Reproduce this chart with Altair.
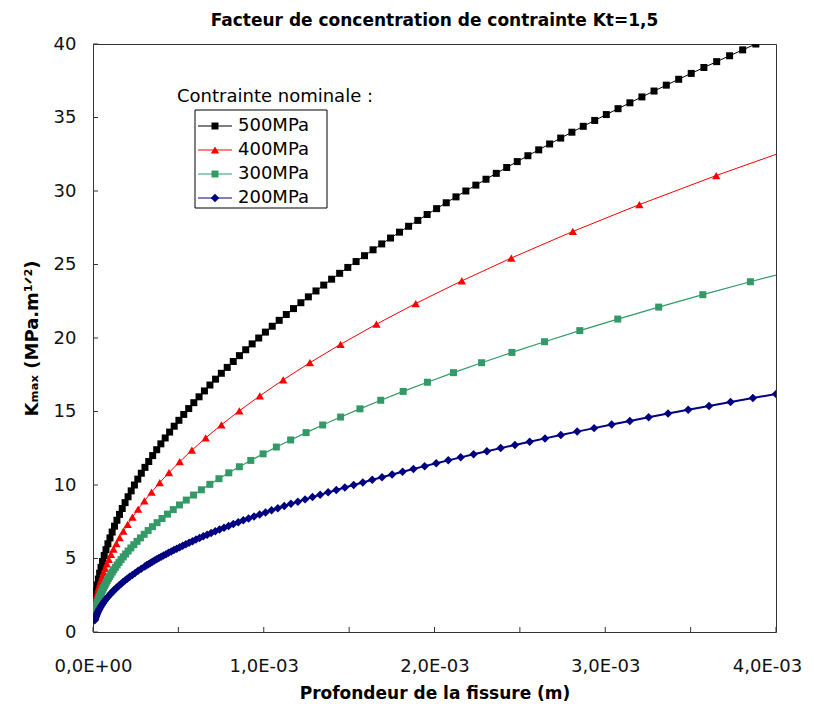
import altair as alt
import pandas as pd

# ---------------- data (depth in mm, Kmax in MPa.m^1/2) ----------------
series_names = ["500MPa", "400MPa", "300MPa", "200MPa"]
series_colors = ["#000000", "#FF0000", "#339966", "#000080"]

depth_500 = [0.00971, 0.01398, 0.01902, 0.02484, 0.03144, 0.03882, 0.04697, 0.05590, 0.06561, 0.07609,
             0.08735, 0.09938, 0.1122, 0.1258, 0.1401, 0.1553, 0.1712, 0.1879, 0.2054, 0.2236,
             0.2426, 0.2624, 0.2830, 0.3043, 0.3265, 0.3494, 0.3731, 0.3975, 0.4228, 0.4488,
             0.4755, 0.5031, 0.5314, 0.5606, 0.5905, 0.6211, 0.6526, 0.6848, 0.7178, 0.7516,
             0.7861, 0.8214, 0.8575, 0.8944, 0.9321, 0.9705, 1.0097, 1.0497, 1.0905, 1.1320,
             1.1743, 1.2174, 1.2613, 1.3059, 1.3513, 1.3975, 1.4445, 1.4922, 1.5408, 1.5901,
             1.6401, 1.6910, 1.7426, 1.7950, 1.8482, 1.9022, 1.9569, 2.0124, 2.0687, 2.1258,
             2.1836, 2.2422, 2.3016, 2.3618, 2.4228, 2.4845, 2.5470, 2.6103, 2.6743, 2.7391,
             2.8047, 2.8711, 2.9383, 3.0062, 3.0749, 3.1444, 3.2147, 3.2857, 3.3575, 3.4301,
             3.5035, 3.5777, 3.6526, 3.7283, 3.8048, 3.8820, 3.9600]
k_500 = [2.0, 2.4, 2.8, 3.2, 3.6, 4.0, 4.4, 4.8, 5.2, 5.6,
         6.0, 6.4, 6.8, 7.2, 7.6, 8.0, 8.4, 8.8, 9.2, 9.6,
         10.0, 10.4, 10.8, 11.2, 11.6, 12.0, 12.4, 12.8, 13.2, 13.6,
         14.0, 14.4, 14.8, 15.2, 15.6, 16.0, 16.4, 16.8, 17.2, 17.6,
         18.0, 18.4, 18.8, 19.2, 19.6, 20.0, 20.4, 20.8, 21.2, 21.6,
         22.0, 22.4, 22.8, 23.2, 23.6, 24.0, 24.4, 24.8, 25.2, 25.6,
         26.0, 26.4, 26.8, 27.2, 27.6, 28.0, 28.4, 28.8, 29.2, 29.6,
         30.0, 30.4, 30.8, 31.2, 31.6, 32.0, 32.4, 32.8, 33.2, 33.6,
         34.0, 34.4, 34.8, 35.2, 35.6, 36.0, 36.4, 36.8, 37.2, 37.6,
         38.0, 38.4, 38.8, 39.2, 39.6, 40.0, 40.4]

depth_400 = [0.0100, 0.0114, 0.0129, 0.0148, 0.0168, 0.0192, 0.0219, 0.0249, 0.0284, 0.0324,
             0.0369, 0.0421, 0.0480, 0.0547, 0.0624, 0.0711, 0.0811, 0.0924, 0.1054, 0.120,
             0.137, 0.156, 0.178, 0.203, 0.231, 0.264, 0.301, 0.343, 0.391, 0.445,
             0.508, 0.579, 0.660, 0.752, 0.857, 0.977, 1.114, 1.27, 1.45, 1.66,
             1.89, 2.16, 2.45, 2.81, 3.20, 3.65, 4.16]
k_400 = [1.625, 1.735, 1.846, 1.977, 2.107, 2.252, 2.405, 2.565, 2.739, 2.926,
         3.122, 3.335, 3.561, 3.801, 4.060, 4.334, 4.629, 4.941, 5.277, 5.631,
         6.016, 6.420, 6.858, 7.323, 7.812, 8.351, 8.918, 9.519, 10.164, 10.843,
         11.585, 12.368, 13.205, 14.095, 15.047, 16.066, 17.156, 18.317, 19.572, 20.942,
         22.346, 23.888, 25.442, 27.247, 29.076, 31.053, 33.152]

depth_300 = [0.01020, 0.01100, 0.01186, 0.01278, 0.01378, 0.01485, 0.01601, 0.01726, 0.01861, 0.02006,
             0.02162, 0.02331, 0.02512, 0.02708, 0.02920, 0.03147, 0.03393, 0.03657, 0.03943, 0.04250,
             0.04582, 0.04939, 0.05324, 0.05739, 0.06187, 0.06669, 0.07190, 0.07750, 0.08355, 0.09007,
             0.09709, 0.10466, 0.11283, 0.12163, 0.13111, 0.14134, 0.15236, 0.16425, 0.17706, 0.19087,
             0.20575, 0.22180, 0.23910, 0.25775, 0.27785, 0.29953, 0.32289, 0.34807, 0.37522, 0.40449,
             0.43604, 0.47005, 0.50671, 0.54623, 0.58884, 0.63477, 0.68428, 0.73765, 0.79518, 0.85721,
             0.92407, 0.99615, 1.0738, 1.1576, 1.2479, 1.3452, 1.4502, 1.5633, 1.6852, 1.8167,
             1.9584, 2.1111, 2.2758, 2.4533, 2.6446, 2.8509, 3.0733, 3.3130, 3.5714, 3.8500,
             4.1500]
k_300 = [1.226, 1.273, 1.322, 1.372, 1.425, 1.479, 1.536, 1.595, 1.656, 1.719,
         1.785, 1.853, 1.924, 1.998, 2.074, 2.154, 2.236, 2.322, 2.411, 2.503,
         2.599, 2.698, 2.801, 2.908, 3.020, 3.135, 3.255, 3.380, 3.509, 3.644,
         3.783, 3.928, 4.078, 4.234, 4.396, 4.565, 4.739, 4.921, 5.109, 5.305,
         5.507, 5.718, 5.937, 6.164, 6.400, 6.645, 6.899, 7.163, 7.438, 7.722,
         8.018, 8.325, 8.643, 8.974, 9.317, 9.674, 10.044, 10.429, 10.828, 11.242,
         11.672, 12.119, 12.583, 13.064, 13.564, 14.083, 14.622, 15.182, 15.763, 16.366,
         16.992, 17.643, 18.318, 19.019, 19.747, 20.502, 21.287, 22.102, 22.948, 23.826,
         24.738]

depth_200 = [0.00972, 0.01115, 0.01279, 0.01468, 0.01685, 0.01933, 0.02218, 0.02546, 0.02921, 0.03352,
             0.03847, 0.04414, 0.05065, 0.05813, 0.06670, 0.07654, 0.08783,
             0.10079, 0.10797, 0.11566, 0.12390, 0.13273, 0.14218, 0.15231, 0.16316, 0.17478, 0.18723,
             0.20056, 0.21485, 0.23015, 0.24654, 0.26410, 0.28291,
             0.30306, 0.31367, 0.32465, 0.33601, 0.34777, 0.35994, 0.37254, 0.38558, 0.39907, 0.41304,
             0.42750, 0.44246, 0.45795, 0.47398, 0.49057, 0.50774, 0.52551, 0.54390, 0.56294, 0.58264,
             0.60304, 0.62414, 0.64599, 0.66860, 0.69200, 0.71622, 0.74129, 0.76723, 0.79409, 0.82188,
             0.85065, 0.88042, 0.91123, 0.94313, 0.97614, 1.01030, 1.04566, 1.08226, 1.12014, 1.15934,
             1.19992, 1.24191, 1.28538, 1.33037, 1.37693, 1.42512, 1.47500, 1.52663, 1.58006, 1.63536,
             1.69260, 1.75184, 1.81315, 1.87661, 1.94229, 2.01027, 2.08063, 2.15345, 2.22882, 2.30683,
             2.38757, 2.47113, 2.55762, 2.64714, 2.73979, 2.83568, 2.93493, 3.03765, 3.14397, 3.25401,
             3.36790, 3.48578, 3.60778, 3.73405, 3.86474, 4.00000]
k_200 = [0.7981, 0.8549, 0.9158, 0.9810, 1.0509, 1.1258, 1.2059, 1.2918, 1.3838, 1.4824,
         1.5880, 1.7011, 1.8222, 1.9520, 2.0911, 2.2400, 2.3995,
         2.5704, 2.6604, 2.7535, 2.8499, 2.9496, 3.0528, 3.1597, 3.2703, 3.3847, 3.5032,
         3.6258, 3.7527, 3.8840, 4.0199, 4.1606, 4.3062,
         4.457, 4.534, 4.613, 4.693, 4.774, 4.857, 4.941, 5.027, 5.114, 5.203,
         5.293, 5.385, 5.478, 5.574, 5.670, 5.769, 5.869, 5.971, 6.074, 6.180,
         6.287, 6.396, 6.507, 6.620, 6.735, 6.851, 6.970, 7.091, 7.214, 7.339,
         7.467, 7.596, 7.728, 7.862, 7.998, 8.137, 8.278, 8.422, 8.568, 8.717,
         8.868, 9.022, 9.178, 9.338, 9.500, 9.664, 9.832, 10.003, 10.176, 10.353,
         10.532, 10.715, 10.901, 11.090, 11.282, 11.478, 11.677, 11.880, 12.086, 12.296,
         12.509, 12.726, 12.947, 13.171, 13.400, 13.632, 13.869, 14.110, 14.354, 14.603,
         14.857, 15.114, 15.377, 15.643, 15.915, 16.191]

x_tick_values = [0.0, 0.0005, 0.001, 0.0015, 0.002, 0.0025, 0.003, 0.0035, 0.004]
x_label_values = [0.0, 0.001, 0.002, 0.003, 0.004]
x_label_texts = ["0,0E+00", "1,0E-03", "2,0E-03", "3,0E-03", "4,0E-03"]
y_tick_values = [0, 5, 10, 15, 20, 25, 30, 35, 40]

chart_title = "Facteur de concentration de contrainte Kt=1,5"
x_title = "Profondeur de la fissure (m)"
y_title = "Kₘₐₓ (MPa.m¹ᐟ²)"
legend_title_text = "Contrainte nominale :"

W, H = 683, 588
FONT = "DejaVu Sans"
AX = "#333333"

xscale = alt.Scale(domain=[0, 0.004], nice=False, zero=True)
yscale = alt.Scale(domain=[0, 40], nice=False, zero=True)

label_expr = " : ".join(
    f"abs(datum.value - {v}) < 1e-9 ? '{t}'" for v, t in zip(x_label_values, x_label_texts)
) + " : ''"

x_axis = alt.Axis(values=x_label_values, grid=False, domain=False, ticks=False,
                  labelExpr=label_expr,
                  labelFont=FONT, labelFontSize=18, labelColor="#111", labelPadding=25,
                  labelFlush=False, labelOverlap=False,
                  labelOffset={"condition": {"test": "datum.value > 0.0039", "value": -9}, "value": 0},
                  title=x_title, titleFont=FONT, titleFontSize=17, titleFontWeight="bold",
                  titleColor="#000", titleY=66, titleBaseline="alphabetic")
y_axis = alt.Axis(values=y_tick_values, grid=False, domain=False, ticks=False,
                  labelFont=FONT, labelFontSize=18, labelColor="#111", labelPadding=17,
                  title=y_title, titleFont=FONT, titleFontSize=18, titleFontWeight="bold",
                  titleColor="#000", titleX=-56, titleBaseline="alphabetic")

# every positional encoding uses the same field names and the same axis definitions
X = alt.X("depth:Q", scale=xscale, axis=x_axis)
Y = alt.Y("kmax:Q", scale=yscale, axis=y_axis)

styles = {
    "500MPa": dict(shape="square", size=49, sw=1.0),
    "400MPa": dict(shape="triangle-up", size=70, sw=1.0),
    "300MPa": dict(shape="square", size=49, sw=1.2),
    "200MPa": dict(shape="diamond", size=72, sw=2.0),
}

series_data = [("500MPa", depth_500, k_500), ("400MPa", depth_400, k_400),
               ("300MPa", depth_300, k_300), ("200MPa", depth_200, k_200)]

layers = []
for (name, dep, kk), color in zip(series_data, series_colors):
    if len(dep) != len(kk):
        raise ValueError(f"length mismatch for {name}: {len(dep)} vs {len(kk)}")
    sdf = pd.DataFrame({"depth": [a * 1e-3 for a in dep], "kmax": kk,
                        "idx": list(range(len(dep))), "series": [name] * len(dep)})
    st = styles[name]
    sc = alt.Chart(sdf)
    layers.append(sc.mark_line(color=color, strokeWidth=st["sw"], clip=True).encode(
        x=X, y=Y, order="idx:Q"))
    layers.append(sc.mark_point(filled=True, shape=st["shape"], size=st["size"], color=color,
                                opacity=1, clip=True).encode(x=X, y=Y))

# inside ticks (Excel style), drawn through the same scales/fields
xt = alt.Chart(pd.DataFrame({"depth": x_tick_values})).mark_rule(color=AX, strokeWidth=1).encode(
    x=X, y=alt.value(H), y2=alt.value(H - 5))
yt = alt.Chart(pd.DataFrame({"kmax": y_tick_values})).mark_rule(color=AX, strokeWidth=1).encode(
    y=Y, x=alt.value(0), x2=alt.value(5))

# ---------------- legend (annotation marks, Excel style) ----------------
LX0, LY0, LX1, LY1 = 102, 66, 234, 164       # box, in plot pixels
ROW0, ROWSTEP = 82, 24                       # first row centre and spacing
SYM_X0, SYM_X1, SYM_XC, LAB_X = 105, 139, 122, 145
note = alt.Chart(pd.DataFrame({"t": [legend_title_text]}))
legend_layers = [
    note.mark_rect(fill="white", stroke="#000", strokeWidth=1).encode(
        x=alt.value(LX0), x2=alt.value(LX1), y=alt.value(LY0), y2=alt.value(LY1)),
    note.mark_text(align="left", baseline="alphabetic", font=FONT, fontSize=18, color="#000").encode(
        x=alt.value(84), y=alt.value(58), text="t:N"),
]
for r, (name, color) in enumerate(zip(series_names, series_colors)):
    st = styles[name]
    yy = ROW0 + ROWSTEP * r
    row = alt.Chart(pd.DataFrame({"series": [name]}))
    legend_layers.append(row.mark_rule(color=color, strokeWidth=1).encode(
        x=alt.value(SYM_X0), x2=alt.value(SYM_X1), y=alt.value(yy)))
    legend_layers.append(row.mark_point(filled=True, shape=st["shape"], size=st["size"],
                                        color=color, opacity=1).encode(
        x=alt.value(SYM_XC), y=alt.value(yy)))
    legend_layers.append(row.mark_text(align="left", baseline="middle", font=FONT, fontSize=18,
                                       color="#000").encode(
        x=alt.value(LAB_X), y=alt.value(yy), text="series:N"))

title_text = alt.Chart(pd.DataFrame({"t": [chart_title]})).mark_text(
    align="center", baseline="alphabetic", font=FONT, fontSize=17, fontWeight="bold",
    color="#000").encode(x=alt.value(W / 2), y=alt.value(-18), text="t:N")

chart = alt.layer(*layers, xt, yt, *legend_layers, title_text).properties(
    width=W, height=H,
    background="white",
    autosize=alt.AutoSizeParams(type="none"),
    padding={"left": 85, "top": 36, "right": 29, "bottom": 70},
).configure_view(stroke=AX, strokeWidth=1)

chart.save("out.html", embed_options={"renderer": "svg", "actions": False})
